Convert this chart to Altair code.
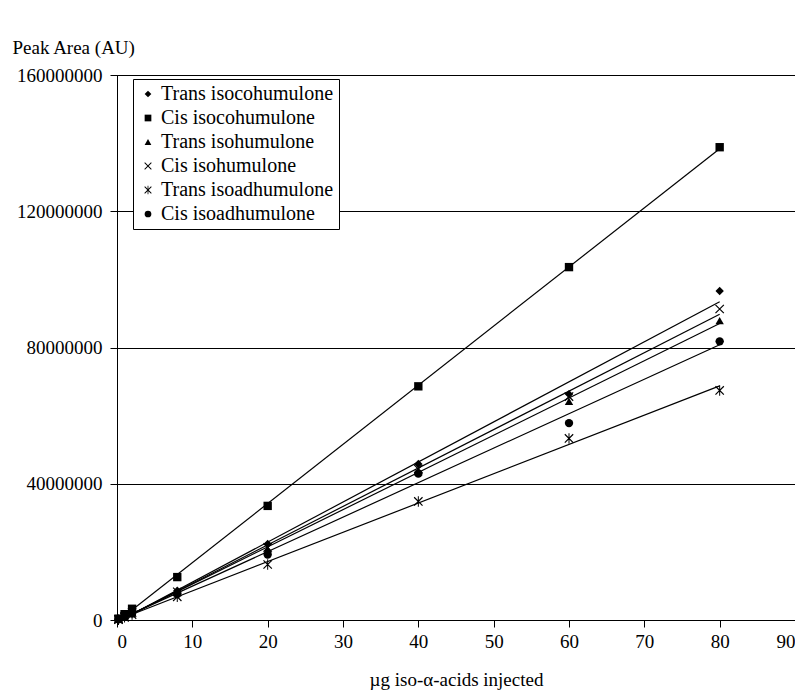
import altair as alt
import pandas as pd

x_vals = [0.2, 1, 2, 8, 20, 40, 60, 80]
series_names = ["Trans isocohumulone", "Cis isocohumulone", "Trans isohumulone",
                "Cis isohumulone", "Trans isoadhumulone", "Cis isoadhumulone"]
trans_isoco = [0.2, 1.1, 2.3, 8.6, 22.3, 45.8, 66.3, 96.6]
cis_isoco = [0.4, 1.7, 3.3, 12.6, 33.5, 68.6, 103.6, 138.8]
trans_isoh = [0.2, 1.0, 2.1, 8.0, 20.8, 43.5, 64.2, 87.9]
cis_isoh = [0.2, 1.0, 2.2, 8.3, 21.3, 44.3, 65.6, 91.3]
trans_isoad = [0.1, 0.8, 1.6, 6.8, 16.3, 34.8, 53.3, 67.4]
cis_isoad = [0.2, 0.9, 1.9, 7.6, 19.2, 43.0, 57.8, 81.8]

all_series = [trans_isoco, cis_isoco, trans_isoh, cis_isoh, trans_isoad, cis_isoad]
rows = []
for name, vals in zip(series_names, all_series):
    for x, v in zip(x_vals, vals):
        rows.append({"series": name, "x": x, "y": v * 1_000_000})
df = pd.DataFrame(rows)

X_PATH = ("M-0.9,-1.1L1.1,0.9L0.9,1.1L-1.1,-0.9Z"
          "M-0.9,1.1L-1.1,0.9L0.9,-1.1L1.1,-0.9Z")
STAR_PATH = X_PATH + "M-0.12,-1.25L0.12,-1.25L0.12,1.25L-0.12,1.25Z"
shapes = ["diamond", "square", "triangle-up", X_PATH, STAR_PATH, "circle"]

FONT = "Liberation Serif"

xenc = alt.X("x:Q", scale=alt.Scale(domain=[0, 90], nice=False),
             axis=alt.Axis(values=list(range(0, 91, 10)), title="µg iso-α-acids injected",
                           grid=False, titlePadding=19, labelPadding=5))
yenc = alt.Y("y:Q", scale=alt.Scale(domain=[0, 160000000], nice=False),
             axis=alt.Axis(values=[0, 40000000, 80000000, 120000000, 160000000],
                           format="d", title="Peak Area (AU)", titleAngle=0,
                           titleAlign="left", titleBaseline="alphabetic",
                           titleX=-105, titleY=-22, grid=True, labelPadding=8))

points = alt.Chart(df).mark_point(filled=True, size=70, color="black", opacity=1).encode(
    x=xenc, y=yenc,
    shape=alt.Shape("series:N", scale=alt.Scale(domain=series_names, range=shapes),
                    sort=series_names,
                    legend=alt.Legend(title=None, orient="none", legendX=16, legendY=4,
                                      strokeColor="black", padding=5,
                                      labelFont=FONT, labelFontSize=20, labelLimit=0,
                                      labelColor="black", symbolSize=45,
                                      symbolFillColor="black", labelOffset=3,
                                      rowPadding=4, fillColor="white"))
)

lines = alt.Chart(df).transform_regression(
    "x", "y", groupby=["series"], extent=[0, 80]
).mark_line(color="black", strokeWidth=1.2).encode(
    x="x:Q", y="y:Q", detail="series:N"
)

chart = alt.layer(lines, points).properties(
    width=678, height=545,
    background="white",
    autosize=alt.AutoSizeParams(type="none"),
    padding={"left": 109, "top": 67, "right": 0, "bottom": 72},
).configure_view(stroke="black", strokeWidth=1).configure_axis(
    labelFont=FONT, labelFontSize=19, labelColor="black",
    titleFont=FONT, titleFontSize=19, titleColor="black", titleFontWeight="normal",
    domainColor="black", tickColor="black", gridColor="black", gridOpacity=1,
    gridWidth=1, tickSize=7
)

chart.save("out.html", embed_options={"renderer": "svg", "actions": False})
